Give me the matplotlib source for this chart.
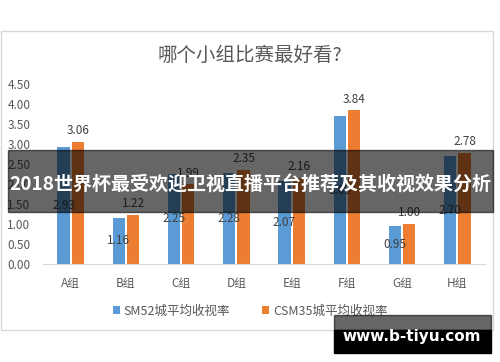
import matplotlib.pyplot as plt
from matplotlib.patches import Rectangle
import numpy as np

plt.rcParams['font.family'] = ['Noto Sans CJK SC', 'DejaVu Sans']

groups = ["A组", "B组", "C组", "D组", "E组", "F组", "G组", "H组"]
sm52 = [2.93, 1.16, 2.25, 2.28, 2.07, 3.69, 0.95, 2.70]
csm35 = [3.06, 1.22, 1.99, 2.35, 2.16, 3.84, 1.00, 2.78]
yticks = [0, 0.5, 1, 1.5, 2, 2.5, 3, 3.5, 4, 4.5]

blue = "#5B9BD5"
orange = "#ED7D31"
txt = "#595959"

fig = plt.figure(figsize=(5, 3.62), dpi=100)
W, H = 500, 362

def px(x0, y0, x1, y1):
    # pixel box -> figure fraction (left, bottom, width, height)
    return (x0 / W, 1 - y1 / H, (x1 - x0) / W, (y1 - y0) / H)

# chart border
l, b, w, h = px(1, 31, 493, 330)
fig.patches.append(Rectangle((l, b), w, h, transform=fig.transFigure,
                             fill=False, edgecolor="#D9D9D9", lw=1, zorder=0))

ax = fig.add_axes(px(43, 84, 485, 264))
x = np.arange(len(groups))
bw = 0.22
b1 = ax.bar(x - 0.13, sm52, bw, color=blue, label="SM52城平均收视率")
b2 = ax.bar(x + 0.13, csm35, bw, color=orange, label="CSM35城平均收视率")

for xi, v in zip(x, sm52):
    ax.text(xi - 0.13, v / 2, f"{v:.2f}", ha="center", va="center",
            fontsize=8.5, color="#404040")
for xi, v in zip(x, csm35):
    ax.text(xi + 0.13, v + 0.12, f"{v:.2f}", ha="center", va="bottom",
            fontsize=8.5, color="#404040")

ax.set_xlim(-0.5, 7.5)
ax.set_ylim(0, 4.5)
ax.set_yticks(yticks)
ax.set_yticklabels([f"{t:.2f}" for t in yticks], fontsize=8.5, color=txt)
ax.set_xticks(x)
ax.set_xticklabels(groups, fontsize=8.5, color=txt)
ax.tick_params(length=0)
ax.tick_params(axis="y", pad=9)
ax.tick_params(axis="x", pad=9)
for s in ["top", "right", "left"]:
    ax.spines[s].set_visible(False)
ax.spines["bottom"].set_color("#D9D9D9")

fig.text(250 / W, 1 - 55 / H, "哪个小组比赛最好看?", ha="center", va="center",
         fontsize=14, color=txt)

fig.legend(handles=[b1, b2], loc="center", bbox_to_anchor=(250 / W, 1 - 311 / H),
           ncol=2, frameon=False, fontsize=9, labelcolor=txt,
           handlelength=0.6, handleheight=0.6, handletextpad=0.3, columnspacing=2.5)

# dark banner
l, b, w, h = px(8, 150, 493, 212)
fig.patches.append(Rectangle((l, b), w, h, transform=fig.transFigure,
                             color="black", alpha=0.6, zorder=10))
fig.text(250 / W, 1 - 185 / H, "2018世界杯最受欢迎卫视直播平台推荐及其收视效果分析",
         ha="center", va="center", fontsize=13.7, fontweight="bold", color="white", zorder=11)

# watermark
l, b, w, h = px(334, 315, 491, 330)
fig.patches.append(Rectangle((l, b), w, h, transform=fig.transFigure,
                             color="black", alpha=0.6, zorder=10))
l, b, w, h = px(334, 330, 491, 353)
fig.patches.append(Rectangle((l, b), w, h, transform=fig.transFigure,
                             color="black", zorder=10))
fig.text(412 / W, 1 - 337 / H, "www.b-tiyu.com", ha="center", va="center",
         fontsize=11, fontweight="bold", color="white", zorder=11,
         family="DejaVu Sans")

fig.savefig("out.png", dpi=100)
